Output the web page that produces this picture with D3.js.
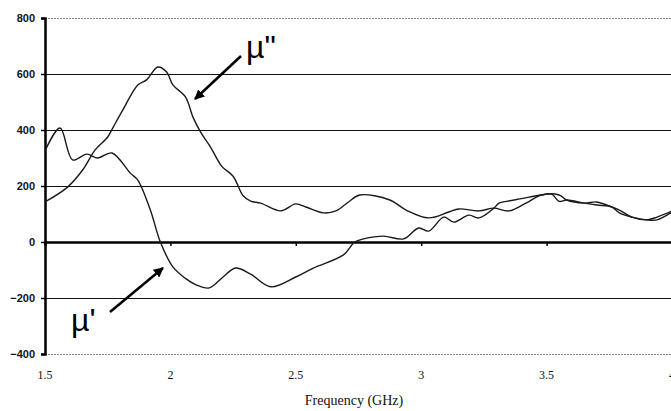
<!DOCTYPE html>
<html>
<head>
<meta charset="utf-8">
<script src="https://cdn.jsdelivr.net/npm/d3@7"></script>
<style>
  html, body { margin: 0; padding: 0; background: #fff; }
  svg { display: block; }
</style>
</head>
<body>
<svg id="chart" width="671" height="411"></svg>
<script>
// mu' (real part)
const muRealFreq = [1.50, 1.56, 1.61, 1.667, 1.71, 1.767, 1.84, 1.87, 1.92, 1.96, 2.01, 2.06, 2.10, 2.155, 2.21, 2.26, 2.32, 2.40, 2.50, 2.57, 2.69, 2.735, 2.77, 2.85, 2.93, 2.99, 3.03, 3.09, 3.13, 3.19, 3.23, 3.29, 3.31, 3.345, 3.40, 3.48, 3.52, 3.55, 3.58, 3.65, 3.70, 3.76, 3.79, 3.84, 3.90, 3.94, 4.0];
const muRealVals = [325, 407, 293, 314, 300, 318, 246, 221, 114, 0, -89, -130, -152, -164, -125, -93, -115, -160, -125, -93, -46, 0, 11, 21, 11, 50, 39, 89, 71, 96, 86, 121, 139, 146, 155, 168, 171, 145, 150, 139, 132, 125, 104, 89, 79, 79, 107];

// mu'' (imaginary part)
const muImagFreq = [1.50, 1.59, 1.65, 1.70, 1.75, 1.77, 1.81, 1.87, 1.905, 1.95, 1.985, 2.01, 2.06, 2.09, 2.12, 2.16, 2.205, 2.25, 2.29, 2.32, 2.36, 2.44, 2.50, 2.54, 2.61, 2.66, 2.71, 2.755, 2.875, 2.94, 3.03, 3.11, 3.15, 3.23, 3.29, 3.35, 3.42, 3.48, 3.55, 3.58, 3.65, 3.70, 3.76, 3.79, 3.84, 3.90, 3.94, 4.0];
const muImagVals = [143, 196, 257, 329, 375, 407, 471, 561, 579, 625, 607, 561, 518, 446, 393, 339, 270, 235, 165, 146, 139, 111, 136, 125, 104, 111, 143, 168, 150, 114, 86, 107, 118, 111, 121, 111, 140, 168, 168, 150, 139, 143, 125, 114, 89, 79, 89, 110];

const xTicks = [1.5, 2, 2.5, 3, 3.5, 4];
const yTicks = [-400, -200, 0, 200, 400, 600, 800];

const svg = d3.select('#chart');

const x = d3.scaleLinear().domain([1.5, 4]).range([45, 672]);
const y = d3.scaleLinear().domain([-400, 800]).range([354, 18]);

// gridlines
svg.append('g')
  .attr('shape-rendering', 'crispEdges')
  .selectAll('line')
  .data(yTicks.filter(d => d !== 0))
  .join('line')
  .attr('x1', x(1.5)).attr('x2', x(4))
  .attr('y1', d => y(d) + 0.5).attr('y2', d => y(d) + 0.5)
  .attr('stroke', d => (d === 800 || d === -400) ? '#888' : '#111')
  .attr('stroke-width', 1)
  .attr('stroke-dasharray', d => (d === 800 || d === -400) ? '2,1' : null);

// y axis
const yAxis = svg.append('g')
  .attr('transform', `translate(${x(1.5)},0)`)
  .call(d3.axisLeft(y).tickValues(yTicks).tickSize(4).tickPadding(6));
yAxis.select('.domain').attr('stroke', '#000').attr('stroke-width', 2.5);
yAxis.selectAll('.tick line').attr('stroke', '#000').attr('stroke-width', 1.5);
yAxis.selectAll('.tick text')
  .attr('font-family', 'Liberation Sans, Arial, sans-serif')
  .attr('font-weight', 'bold')
  .attr('font-size', 11)
  .attr('fill', '#111');

// x axis on the zero line
const xAxis = svg.append('g')
  .attr('transform', `translate(0,${y(0)})`)
  .call(d3.axisBottom(x).tickValues(xTicks.slice(1)).tickSize(4).tickFormat(''));
xAxis.select('.domain').attr('stroke', '#000').attr('stroke-width', 2.5);
xAxis.selectAll('.tick line').attr('stroke', '#000').attr('stroke-width', 1.5);

// x tick labels below the plot
svg.append('g')
  .selectAll('text')
  .data(xTicks)
  .join('text')
  .attr('x', d => x(d))
  .attr('y', 379)
  .attr('text-anchor', 'middle')
  .attr('font-family', 'Liberation Serif, Times New Roman, serif')
  .attr('font-size', 12)
  .attr('fill', '#111')
  .text(d => d);

svg.append('text')
  .attr('x', 354).attr('y', 405)
  .attr('text-anchor', 'middle')
  .attr('font-family', 'Liberation Serif, Times New Roman, serif')
  .attr('font-size', 14)
  .attr('fill', '#111')
  .text('Frequency (GHz)');

// curves
const line = d3.line()
  .x(d => x(d[0]))
  .y(d => y(d[1]))
  .curve(d3.curveCatmullRom.alpha(0.5));

svg.append('path')
  .datum(d3.zip(muRealFreq, muRealVals))
  .attr('d', line)
  .attr('fill', 'none')
  .attr('stroke', '#1a1a1a')
  .attr('stroke-width', 1.4);

svg.append('path')
  .datum(d3.zip(muImagFreq, muImagVals))
  .attr('d', line)
  .attr('fill', 'none')
  .attr('stroke', '#1a1a1a')
  .attr('stroke-width', 1.4);

// arrows
svg.append('defs').append('marker')
  .attr('id', 'head')
  .attr('viewBox', '0 0 10 10')
  .attr('refX', 9).attr('refY', 5)
  .attr('markerWidth', 4).attr('markerHeight', 4)
  .attr('markerUnits', 'strokeWidth')
  .attr('orient', 'auto')
  .append('path')
  .attr('d', 'M0,0 L10,5 L0,10 Z')
  .attr('fill', '#000');

const arrows = [
  { x1: 241, y1: 56, x2: 195, y2: 99 },
  { x1: 110, y1: 312, x2: 163, y2: 268 }
];
svg.append('g')
  .selectAll('line')
  .data(arrows)
  .join('line')
  .attr('x1', d => d.x1).attr('y1', d => d.y1)
  .attr('x2', d => d.x2).attr('y2', d => d.y2)
  .attr('stroke', '#000')
  .attr('stroke-width', 2.5)
  .attr('marker-end', 'url(#head)');

// labels
svg.append('text')
  .attr('x', 246).attr('y', 58)
  .attr('font-family', 'Liberation Sans, Arial, sans-serif')
  .attr('font-size', 32)
  .attr('fill', '#000')
  .text('\u00b5"');

svg.append('text')
  .attr('x', 71).attr('y', 331)
  .attr('font-family', 'Liberation Sans, Arial, sans-serif')
  .attr('font-size', 32)
  .attr('fill', '#000')
  .text('\u00b5\'');
</script>
</body>
</html>
